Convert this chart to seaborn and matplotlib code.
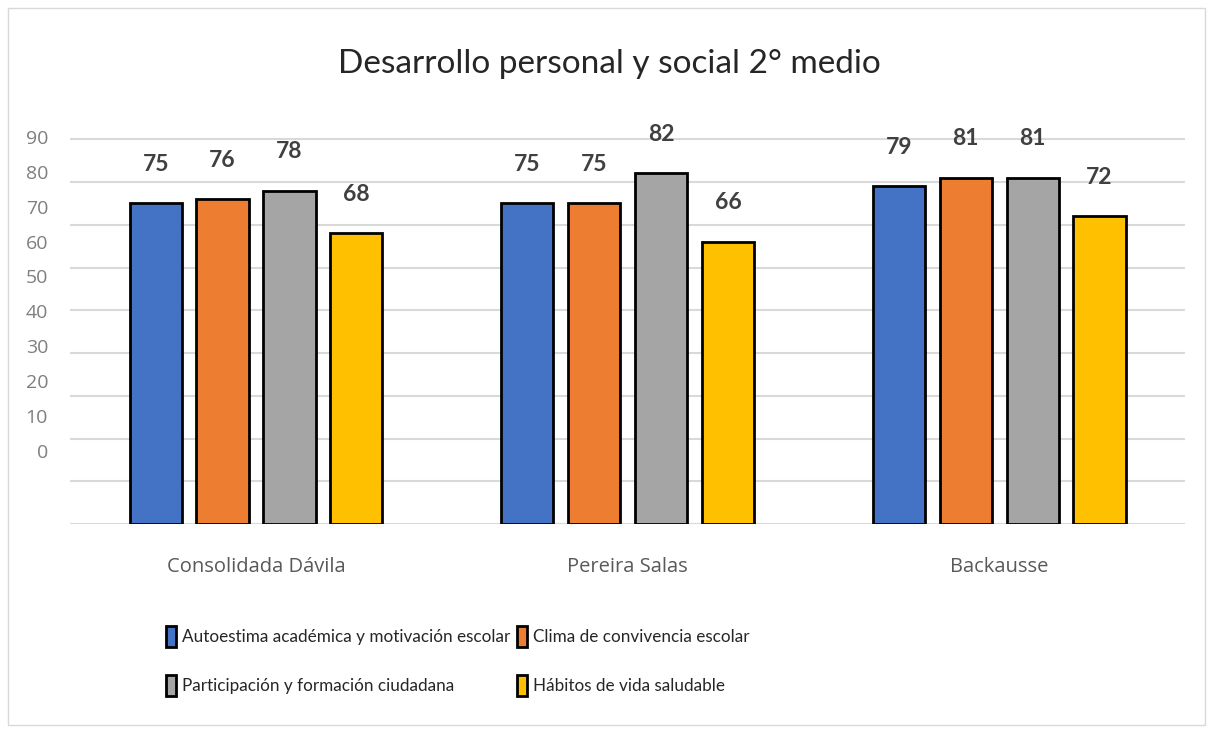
import pandas as pd
import seaborn as sns
import matplotlib.pyplot as plt
from matplotlib.patches import Rectangle

schools = ["Consolidada Dávila", "Pereira Salas", "Backausse"]
indicators = [
    "Autoestima académica y motivación escolar",
    "Clima de convivencia escolar",
    "Participación y formación ciudadana",
    "Hábitos de vida saludable",
]
autoestima = [75, 75, 79]
clima = [76, 75, 81]
participacion = [78, 82, 81]
habitos = [68, 66, 72]
colors = ["#4472C4", "#ED7D31", "#A5A5A5", "#FFC000"]

# y labels in the source sit on their own spacing, not on the gridlines
ylabels = ["90", "80", "70", "60", "50", "40", "30", "20", "10", "0"]
ylabel_pos = [90.5, 82.3, 74.2, 66.0, 57.9, 49.8, 41.6, 33.5, 25.3, 17.2]

rows = []
for name, vals in zip(indicators, [autoestima, clima, participacion, habitos]):
    for s, v in zip(schools, vals):
        rows.append({"school": s, "indicator": name, "value": v})
df = pd.DataFrame(rows)

sns.set_style("white")
plt.rcParams["font.family"] = ["Lato", "DejaVu Sans"]

fig = plt.figure(figsize=(12.11, 7.33), dpi=100)
ax = fig.add_axes([0.058, 0.285, 0.9205, 0.528])

sns.barplot(data=df, x="school", y="value", hue="indicator", hue_order=indicators,
            palette=colors, width=0.72, gap=0.22, edgecolor="black", linewidth=2,
            saturation=1, ax=ax)

for cont in ax.containers:
    for bar in cont:
        h = bar.get_height()
        ax.annotate(f"{h:.0f}", (bar.get_x() + bar.get_width() / 2, h),
                    xytext=(0, 28), textcoords="offset points", ha="center",
                    va="center", fontsize=16.5, fontweight="bold", color="#404040",
                    annotation_clip=False)

ax.set_ylim(0, 90)
ax.set_xlim(-0.5, 2.5)
ax.set_yticks(range(0, 91, 10), minor=True)
ax.set_yticks(ylabel_pos, ylabels)
ax.grid(False)
ax.grid(True, which="minor", axis="y", color="#D9D9D9", linewidth=1.5)
ax.set_axisbelow(True)
ax.tick_params(axis="y", which="both", length=0, pad=16, labelsize=14, labelcolor="#7F7F7F")
ax.tick_params(axis="x", length=0, pad=24, labelsize=14.5, labelcolor="#595959")
for lab in ax.get_xticklabels() + ax.get_yticklabels():
    lab.set_family(["Open Sans", "DejaVu Sans"])
ax.set_xlabel("")
ax.set_ylabel("")
for sp in ax.spines.values():
    sp.set_visible(False)

ax.legend_.remove()
handles, labels = ax.get_legend_handles_labels()
order = [0, 2, 1, 3]
fig.legend([handles[i] for i in order], [labels[i] for i in order],
           loc="upper left", bbox_to_anchor=(0.124, 0.167),
           ncol=2, frameon=False, labelcolor="#262626",
           prop={"family": ["Lato", "DejaVu Sans"], "size": 12.3},
           handlelength=0.6, handleheight=1.5, handletextpad=0.35,
           columnspacing=0.4, labelspacing=1.65)

fig.text(0.503, 0.913, "Desarrollo personal y social 2° medio", ha="center",
         va="center", fontsize=24, color="#262626")

fig.patches.append(Rectangle((0.007, 0.011), 0.988, 0.978, transform=fig.transFigure,
                             fill=False, edgecolor="#D9D9D9", linewidth=1))

fig.savefig("out.png", dpi=100)
